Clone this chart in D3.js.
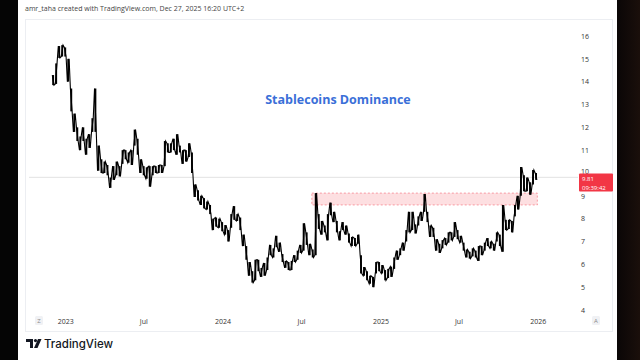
<!DOCTYPE html>
<html><head><meta charset="utf-8">
<script src="https://cdn.jsdelivr.net/npm/d3@7"></script>
<style>
html,body{margin:0;padding:0;background:#fff;}
svg{display:block;font-family:"Open Sans","Noto Sans",sans-serif;}
</style></head>
<body><svg id="c" width="640" height="360"></svg>
<script>
// ---- data (weekly high / low of stablecoin dominance, %) ----
const firstWeek = "2022-12-04";
const highs = [14.29,14.8,15.56,15.6,15.5,15.0,13.7,12.6,12.0,11.6,12.0,11.5,11.7,12.4,13.7,11.2,10.6,10.5,10.35,9.8,
10.3,10.5,10.3,11.0,11.0,10.9,11.0,11.9,11.5,10.6,10.3,10.25,10.3,10.3,10.3,10.35,10.35,11.4,11.3,11.3,
11.5,11.7,11.2,11.0,11.0,11.3,10.9,9.5,9.25,9.0,8.9,8.75,8.6,8.0,8.05,8.0,7.85,7.72,7.5,8.2,
8.55,8.2,8.05,7.3,6.8,6.1,5.7,6.2,6.2,5.84,6.06,6.3,6.85,6.7,7.25,6.95,6.45,6.15,6.1,6.15,
6.4,6.6,6.85,7.8,7.4,6.9,6.65,9.12,8.2,7.9,7.7,8.2,8.7,8.3,7.9,7.45,7.85,7.7,7.35,7.2,
7.15,7.3,6.4,5.88,5.7,5.5,5.45,6.1,6.1,5.97,5.75,5.8,5.9,6.3,6.6,6.7,6.95,7.5,8.3,8.3,
7.75,8.1,8.3,9.08,8.3,7.7,7.6,7.1,6.9,7.06,7.15,7.4,7.4,7.85,7.5,7.25,6.95,6.65,6.55,6.7,
6.6,6.8,6.8,6.95,7.15,7.0,6.9,7.4,7.3,8.6,7.95,7.95,7.9,8.6,9.0,10.26,9.9,9.8,9.6,10.13,10.0];
const lows = [13.85,13.9,15.04,15.1,15.1,14.0,12.7,11.8,11.4,11.0,11.4,10.8,11.1,11.8,11.8,10.1,10.0,10.0,9.9,9.35,
9.7,9.9,9.85,10.4,10.6,10.45,10.35,11.2,10.8,10.0,9.9,9.75,9.4,9.9,10.0,10.0,10.0,10.3,10.9,10.9,
11.0,10.8,10.9,10.4,10.5,10.7,10.0,8.95,8.8,8.6,8.45,8.4,8.2,7.5,7.65,7.6,7.45,7.3,7.0,7.6,
7.95,7.9,7.5,6.8,6.2,5.5,5.2,5.3,5.7,5.45,5.5,5.75,6.4,6.3,6.75,6.55,6.1,5.85,5.75,5.75,
6.1,6.2,6.5,6.6,6.85,6.4,6.3,6.4,7.55,7.3,7.4,7.05,8.15,7.85,7.4,7.05,7.5,7.3,6.95,6.8,
6.8,6.9,5.6,5.5,5.3,5.15,5.0,5.6,5.7,5.6,5.3,5.4,5.45,5.8,6.2,6.4,6.6,7.0,7.4,7.5,
7.35,7.7,7.9,8.3,7.85,7.2,7.2,6.6,6.5,6.7,6.85,6.95,7.05,7.2,7.1,6.95,6.6,6.3,6.25,6.35,
6.3,6.15,6.4,6.6,6.8,6.7,6.6,7.0,6.8,6.55,7.5,7.55,7.4,8.1,8.4,9.0,9.2,9.2,9.05,9.5,9.7];
const lastPrice = 9.81;
const lastTime = "09:39:42";
const zoneRange = [8.6, 9.12];
const zoneDates = ["2024-07-26", "2025-12-31"];
const yTicks = [4,5,6,7,8,9,10,11,12,13,14,15,16];
const xTickDates = ["2023-01-01","2023-07-01","2024-01-01","2024-07-01","2025-01-01","2025-07-01","2026-01-01"];
const xTickLabels = ["2023","Jul","2024","Jul","2025","Jul","2026"];
const titleText = "Stablecoins Dominance";
const headerText = "amr_taha created with TradingView.com, Dec 27, 2025 16:20 UTC+2";

// ---- build ----
const svg = d3.select("#c");
const parse = d3.timeParse("%Y-%m-%d");
const start = parse(firstWeek);
const bars = highs.map((h,i)=>({date:d3.timeDay.offset(start, 7*i), hi:h, lo:lows[i]}));

const x = d3.scaleTime().domain([parse("2022-10-09"), parse("2026-03-26")]).range([29, 574]);
const y = d3.scaleLinear().domain([4,16]).range([310,36]);

// borders
svg.append("rect").attr("x",0).attr("y",0).attr("width",640).attr("height",360).attr("fill","#fff");
svg.append("rect").attr("x",0).attr("y",0).attr("width",18).attr("height",360).attr("fill","#050505");
const g = svg.append("defs").append("linearGradient").attr("id","rg").attr("x1",0).attr("x2",1);
g.append("stop").attr("offset",0).attr("stop-color","#0a0606");
g.append("stop").attr("offset",1).attr("stop-color","#1a0f0b");
svg.append("rect").attr("x",617).attr("y",0).attr("width",23).attr("height",360).attr("fill","url(#rg)");

// panel frame
svg.append("rect").attr("x",25.5).attr("y",19.5).attr("width",587).attr("height",312)
  .attr("fill","none").attr("stroke","#eceef2");

// header
svg.append("text").attr("x",25).attr("y",11).attr("font-size",7).attr("fill","#444").text(headerText);

// last price line
svg.append("line").attr("x1",29).attr("x2",578).attr("y1",y(lastPrice)).attr("y2",y(lastPrice))
  .attr("stroke","#e2e2e2").attr("stroke-width",1);

// zone
svg.append("rect").attr("x",x(parse(zoneDates[0]))).attr("y",y(zoneRange[1]))
  .attr("width",x(parse(zoneDates[1]))-x(parse(zoneDates[0]))).attr("height",y(zoneRange[0])-y(zoneRange[1]))
  .attr("fill","rgba(242,54,69,0.16)").attr("stroke","rgba(242,54,69,0.45)").attr("stroke-dasharray","2,2").attr("stroke-width",1);

// price texture: zig-zag through weekly highs and lows + high-low bars
const pts = [];
bars.forEach((d,i)=>{
  pts.push({date:d3.timeDay.offset(d.date,-2), v: i%2 ? d.lo : d.hi});
  pts.push({date:d3.timeDay.offset(d.date, 2), v: i%2 ? d.hi : d.lo});
});
const zz = d3.line().x(d=>x(d.date)).y(d=>y(d.v));
svg.append("path").datum(pts).attr("d",zz).attr("fill","none").attr("stroke","#000").attr("stroke-width",1.1);
svg.append("g").selectAll("line").data(bars).join("line")
  .attr("x1",d=>x(d.date)).attr("x2",d=>x(d.date)).attr("y1",d=>y(d.hi)).attr("y2",d=>y(d.lo))
  .attr("stroke","#000").attr("stroke-width",1.9);

// title
svg.append("text").attr("x",338).attr("y",104).attr("text-anchor","middle").attr("font-size",12.5)
  .attr("font-weight","bold").attr("fill","#3a6fd8").text(titleText);

// y axis
const ya = svg.append("g").attr("transform","translate(578,0)")
  .call(d3.axisRight(y).tickValues(yTicks).tickSize(0).tickPadding(3));
ya.select(".domain").remove();
ya.selectAll("text").attr("font-size",7).attr("fill","#333").attr("font-family","Open Sans, sans-serif");
ya.selectAll(".tick").filter(d=>d===10).select("text").attr("dy","0.1em");

// x axis
const xa = svg.append("g").attr("transform","translate(0,316)")
  .call(d3.axisBottom(x).tickValues(xTickDates.map(parse)).tickSize(0).tickPadding(3)
    .tickFormat((d,i)=>xTickLabels[i]));
xa.select(".domain").remove();
xa.selectAll("text").attr("font-size",7).attr("fill","#333").attr("font-family","Open Sans, sans-serif");

// corner icons
svg.append("rect").attr("x",35).attr("y",316).attr("width",8).attr("height",9).attr("rx",1.5).attr("fill","#f0f1f4");
svg.append("text").attr("x",39).attr("y",323).attr("text-anchor","middle").attr("font-size",6).attr("fill","#888").text("Z");
svg.append("rect").attr("x",592).attr("y",316).attr("width",8).attr("height",9).attr("rx",1.5).attr("fill","#f0f1f4");
svg.append("text").attr("x",596).attr("y",323).attr("text-anchor","middle").attr("font-size",6).attr("fill","#888").text("A");

// price label
svg.append("rect").attr("x",579).attr("y",173.5).attr("width",34).attr("height",18).attr("rx",1).attr("fill","#f23645");
svg.append("text").attr("x",582).attr("y",181).attr("font-size",6).attr("fill","#fff").text(lastPrice.toFixed(2));
svg.append("text").attr("x",582).attr("y",189.5).attr("font-size",6).attr("fill","#fff").text(lastTime);

// TradingView logo
const lg = svg.append("g").attr("transform","translate(26,339)");
lg.append("path").attr("d","M0,0 H7 V9 H4 V3 H0 Z").attr("fill","#131722");
lg.append("circle").attr("cx",9.5).attr("cy",1.6).attr("r",1.6).attr("fill","#131722");
lg.append("path").attr("d","M12,0 H15.5 L11.5,9 H8 Z").attr("fill","#131722");
svg.append("text").attr("x",44).attr("y",348).attr("font-size",11.5).attr("font-weight","500")
  .attr("fill","#131722").attr("font-family","Inter, sans-serif").text("TradingView");
</script></body></html>
